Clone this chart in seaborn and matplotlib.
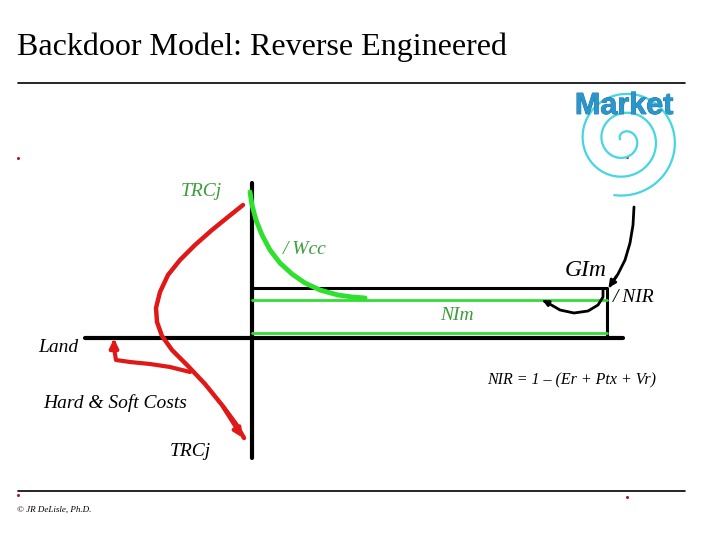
import numpy as np
import pandas as pd
import matplotlib
matplotlib.use("Agg")
import matplotlib.pyplot as plt
import seaborn as sns
import matplotlib.patheffects as pe

# diagram geometry, in slide pixels (720 x 540, y pointing down)
green_x = [250, 252, 256, 262, 270, 280, 292, 305, 320, 338, 352, 365]
green_y = [192, 205, 220, 235, 250, 263, 274, 283, 290, 295, 297, 298]

red_x = [243, 228, 212, 195, 180, 168, 160, 156, 157, 162, 172, 188, 205, 222, 236, 244]
red_y = [205, 217, 230, 245, 260, 275, 292, 308, 322, 336, 350, 366, 384, 405, 424, 438]

branch_x = [190, 170, 150, 130, 116, 114]
branch_y = [372, 367, 364, 362, 360, 348]

hook_x = [603, 603, 598, 588, 574, 560, 548]
hook_y = [289, 297, 305, 311, 313, 310, 303]

big_arrow_x = [634, 633, 630, 625, 618, 610]
big_arrow_y = [207, 225, 243, 260, 274, 286]

labels = [
    # text, x, y, colour, size
    ("TRCj", 181, 192, "#3a9e3a", 14),
    ("/ Wcc", 283, 250, "#3a9e3a", 14),
    ("NIm", 440, 315, "#3a9e3a", 14),
    ("GIm", 565, 271, "black", 17),
    ("/ NIR", 613, 298, "black", 14),
    ("Land", 38, 347, "black", 14),
    ("Hard & Soft Costs", 43, 403, "black", 14),
    ("TRCj", 170, 451, "black", 14),
    ("NIR = 1 \u2013 (Er + Ptx + Vr)", 487, 380, "black", 11.5),
]

sns.set_theme(style="white")
plt.rcParams["font.family"] = ["Liberation Serif", "DejaVu Serif"]
plt.rcParams["text.color"] = "black"

fig = plt.figure(figsize=(7.2, 5.4), dpi=100)
ax = fig.add_axes([0, 0, 1, 1])
ax.set_xlim(0, 720)
ax.set_ylim(540, 0)
ax.axis("off")

# title and rules
ax.text(17, 47, "Backdoor Model: Reverse Engineered", fontsize=23, va="center", ha="left",
        color="black")
ax.plot([18, 685], [83, 83], color="black", lw=1.2)
ax.plot([18, 685], [491, 491], color="black", lw=1.2)
ax.text(17, 510, "\u00a9 JR DeLisle, Ph.D.", fontsize=6.5, style="italic", va="center",
        color="black")
for mx, my in [(18, 158), (627, 157), (18, 495), (627, 497)]:
    ax.plot(mx, my, marker="o", ms=2.2, color="#b0182a", mec="none")

# market spiral
turns = 2.75
theta = np.linspace(0, 2 * np.pi * turns, 600)
r = 4 + 52 * theta / theta[-1]
phi = np.deg2rad(100) - (theta[-1] - theta)
spiral = pd.DataFrame({"x": 624 + r * np.cos(phi), "y": 140 + r * np.sin(phi)})
sns.lineplot(data=spiral, x="x", y="y", sort=False, estimator=None, ax=ax,
             color="#45d6e2", lw=1.6)
ax.text(624, 106, "Market", fontsize=22, fontweight="bold", family="Liberation Sans",
        color="#2a96cc", ha="center", va="center",
        path_effects=[pe.withStroke(linewidth=0.6, foreground="#1a6fa0")])

# axes of the diagram
ax.plot([252, 252], [183, 458], color="black", lw=3)
ax.plot([85, 623], [338, 338], color="black", lw=3)
# box
ax.plot([252, 607, 607], [288, 288, 338], color="black", lw=2.2)
ax.plot([252, 607], [300, 300], color="#33dd33", lw=2)
ax.plot([252, 607], [333, 333], color="#33dd33", lw=2)

# green curve
sns.lineplot(x=green_x, y=green_y, sort=False, estimator=None, ax=ax,
             color="#2fe02f", lw=3.5)

# red curve with arrow into the axis
sns.lineplot(x=red_x, y=red_y, sort=False, estimator=None, ax=ax,
             color="#e01818", lw=3.2)
ax.annotate("", xy=(red_x[-1], red_y[-1] + 2), xytext=(red_x[-3], red_y[-3]),
            arrowprops=dict(arrowstyle="-|>", color="#e01818", lw=3, mutation_scale=12))
sns.lineplot(x=branch_x, y=branch_y, sort=False, estimator=None, ax=ax,
             color="#e01818", lw=3)
ax.annotate("", xy=(114, 336), xytext=(branch_x[-1], branch_y[-1]),
            arrowprops=dict(arrowstyle="-|>", color="#e01818", lw=3, mutation_scale=12))

# black arrows
sns.lineplot(x=big_arrow_x, y=big_arrow_y, sort=False, estimator=None, ax=ax,
             color="black", lw=2)
ax.annotate("", xy=(607, 290), xytext=(big_arrow_x[-2], big_arrow_y[-2]),
            arrowprops=dict(arrowstyle="-|>", color="black", lw=2, mutation_scale=10))
sns.lineplot(x=hook_x, y=hook_y, sort=False, estimator=None, ax=ax,
             color="black", lw=2)
ax.annotate("", xy=(540, 299), xytext=(hook_x[-1], hook_y[-1]),
            arrowprops=dict(arrowstyle="-|>", color="black", lw=2, mutation_scale=8))

for txt, x, y, col, size in labels:
    ax.text(x, y, txt, color=col, fontsize=size, style="italic", va="center", ha="left")

fig.savefig("out.png", dpi=100)
